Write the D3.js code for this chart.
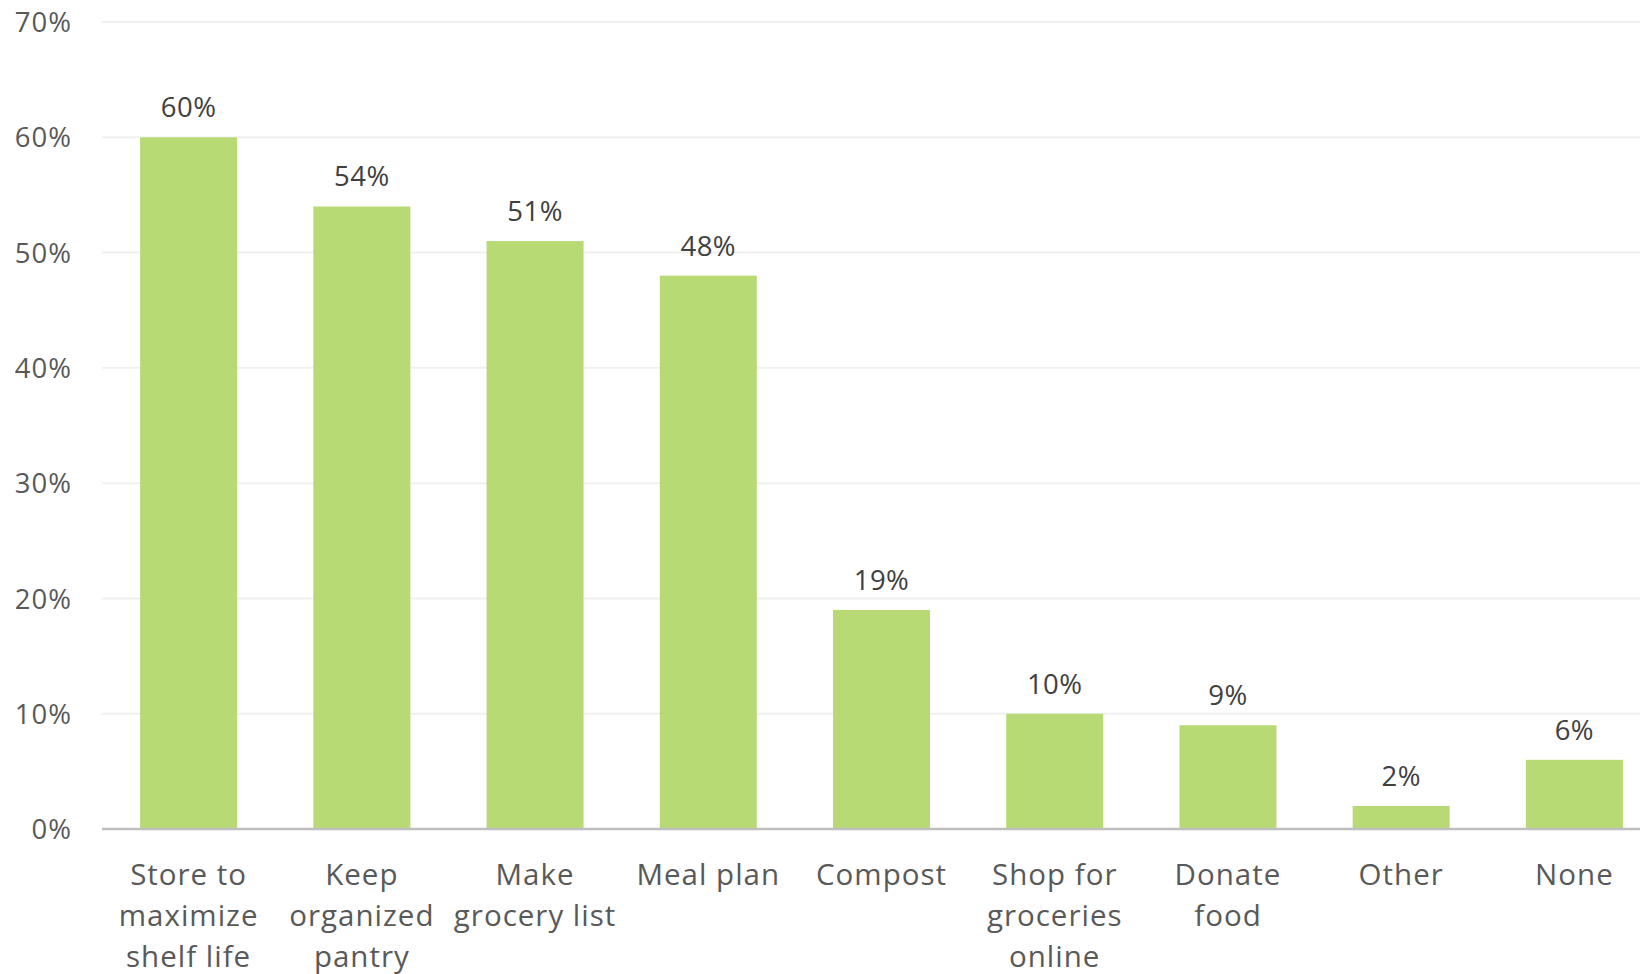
<!DOCTYPE html>
<html>
<head>
<meta charset="utf-8">
<script src="https://cdn.jsdelivr.net/npm/d3@7"></script>
<style>
  html, body { margin: 0; padding: 0; background: #fff; }
  svg { display: block; }
</style>
</head>
<body>
<svg id="chart" width="1640" height="974"></svg>
<script>
const categories = [
  ["Store to", "maximize", "shelf life"],
  ["Keep", "organized", "pantry"],
  ["Make", "grocery list"],
  ["Meal plan"],
  ["Compost"],
  ["Shop for", "groceries", "online"],
  ["Donate", "food"],
  ["Other"],
  ["None"]
];
const values = [60, 54, 51, 48, 19, 10, 9, 2, 6];
const yTicks = [0, 10, 20, 30, 40, 50, 60, 70];

(function () {
const svg = d3.select("#chart");
const W = 1640;
const mLeft = 102, mRight = 1661, mTop = 22, mBottom = 829;
const font = "'Open Sans', sans-serif";

const keys = categories.map((c, i) => i);
const x = d3.scaleBand().domain(keys).range([mLeft, mRight]).paddingInner(0.44).paddingOuter(0.22);
const y = d3.scaleLinear().domain([0, 70]).range([mBottom, mTop]);

// gridlines
svg.append("g").selectAll("line").data(yTicks.filter(t => t > 0)).join("line")
  .attr("x1", mLeft).attr("x2", W)
  .attr("y1", d => y(d)).attr("y2", d => y(d))
  .attr("stroke", "#f0f0f0").attr("stroke-width", 2);

// y axis labels
const yAxis = d3.axisLeft(y).tickValues(yTicks).tickFormat(d => d + "%").tickSize(0).tickPadding(0);
const ya = svg.append("g").attr("transform", `translate(${72},0)`).call(yAxis);
ya.select(".domain").remove();
ya.selectAll("text").attr("font-family", font).attr("font-size", 27.5)
  .attr("letter-spacing", 1).attr("fill", "#595959").attr("dy", "0.35em");

// bars
svg.append("g").selectAll("rect").data(values).join("rect")
  .attr("x", (d, i) => x(i))
  .attr("width", x.bandwidth())
  .attr("y", d => y(d))
  .attr("height", d => y(0) - y(d))
  .attr("fill", "#b8da74");

// data labels
svg.append("g").selectAll("text").data(values).join("text")
  .attr("x", (d, i) => x(i) + x.bandwidth() / 2)
  .attr("y", d => y(d) - 20)
  .attr("text-anchor", "middle")
  .attr("font-family", font).attr("font-size", 27.5).attr("letter-spacing", 0.5)
  .attr("fill", "#404040")
  .text(d => d + "%");

// x axis line
svg.append("line").attr("x1", mLeft).attr("x2", W).attr("y1", mBottom).attr("y2", mBottom)
  .attr("stroke", "#bfbfbf").attr("stroke-width", 2.5);

// category labels
const xAxis = d3.axisBottom(x).tickSize(0).tickFormat(() => "");
const xa = svg.append("g").attr("transform", `translate(0,${mBottom})`).call(xAxis);
xa.select(".domain").remove();
xa.selectAll(".tick").each(function (i) {
  const t = d3.select(this).select("text").text(null)
    .attr("font-family", font).attr("font-size", 29.5).attr("letter-spacing", 1)
    .attr("fill", "#595959")
    .attr("text-anchor", "middle").attr("y", 0).attr("dy", null);
  categories[i].forEach((line, k) => {
    t.append("tspan").attr("x", 0).attr("y", 56 + k * 41).text(line);
  });
});
})();
</script>
</body>
</html>
